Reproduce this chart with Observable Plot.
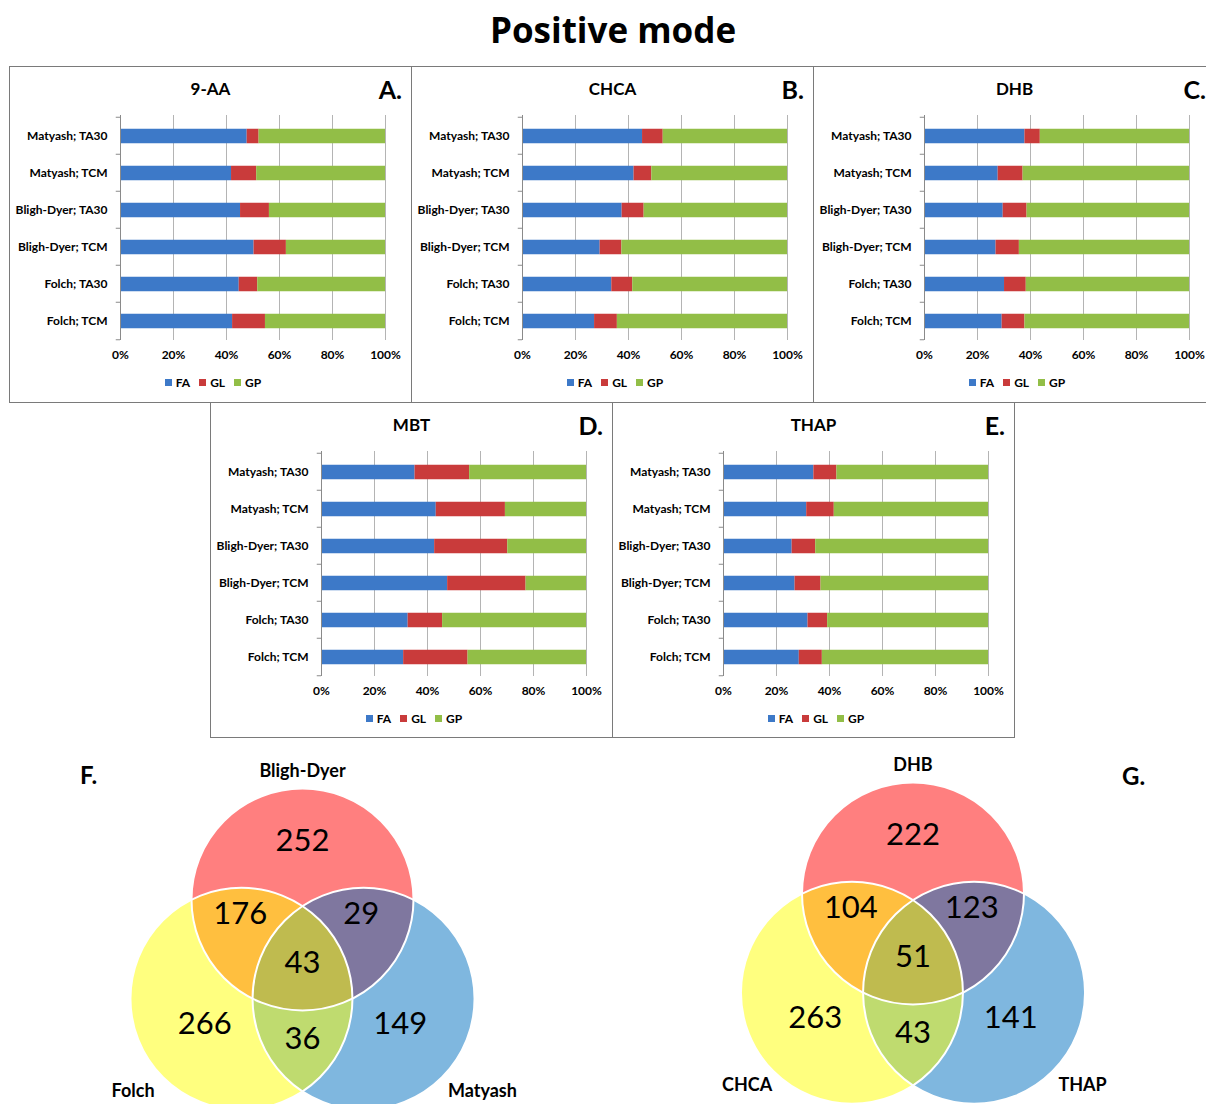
<!DOCTYPE html>
<html><head><meta charset="utf-8">
<script src="https://cdn.jsdelivr.net/npm/d3@7"></script>
<script src="https://cdn.jsdelivr.net/npm/@observablehq/plot@0.6"></script>
<style>
html,body{margin:0;padding:0;background:#fff;}
body{width:1206px;height:1104px;overflow:hidden;position:relative;font-family:Lato,"Open Sans",sans-serif;color:#000;}
.abs{position:absolute;}
.box{position:absolute;box-sizing:border-box;border:1px solid #7a7a7a;}
.ptitle{position:absolute;left:0;right:0;top:12px;text-align:center;font-weight:bold;font-size:17px;line-height:20px;}
.pletter{position:absolute;right:9px;top:7px;font-weight:bold;font-size:25px;line-height:30px;}
.legend{position:absolute;left:5px;right:0;top:309px;display:flex;justify-content:center;gap:9px;font-weight:bold;font-size:12px;line-height:14px;}
.legend span.sw{display:inline-block;width:7px;height:7px;margin-right:4px;vertical-align:1px;}
.panel svg{position:absolute;left:0;top:0;}
</style></head><body>
<div class="abs" style="left:10px;width:1206px;top:7px;text-align:center;font-family:'Open Sans',sans-serif;font-weight:bold;font-size:35px;line-height:46px;">Positive mode</div>
<div id="root"></div>
<script>
// ---------- data ----------
const methods = ["Matyash; TA30","Matyash; TCM","Bligh-Dyer; TA30","Bligh-Dyer; TCM","Folch; TA30","Folch; TCM"];
const classes = ["FA","GL","GP"];
const matrices = ["9-AA","CHCA","DHB","MBT","THAP"];
const letters = ["A.","B.","C.","D.","E."];
const xTicks = [0,20,40,60,80,100];

const AA_FA = [47.8,41.9,45.3,50.4,44.8,42.3];
const AA_GL = [4.5,9.5,10.9,12.2,7.0,12.4];
const AA_GP = [47.7,48.6,43.8,37.4,48.2,45.3];
const CHCA_FA = [45.3,42.1,37.6,29.3,33.7,27.2];
const CHCA_GL = [7.8,6.7,8.3,8.2,7.9,8.6];
const CHCA_GP = [46.9,51.2,54.1,62.5,58.4,64.2];
const DHB_FA = [37.9,27.8,29.7,27.0,30.2,29.3];
const DHB_GL = [5.8,9.4,9.0,8.8,8.2,8.6];
const DHB_GP = [56.3,62.8,61.3,64.2,61.6,62.1];
const MBT_FA = [35.3,43.3,42.7,47.6,32.7,31.0];
const MBT_GL = [20.6,26.1,27.6,29.6,13.0,24.3];
const MBT_GP = [44.1,30.6,29.7,22.8,54.3,44.7];
const THAP_FA = [34.1,31.4,25.9,27.0,31.9,28.6];
const THAP_GL = [8.7,10.4,8.9,9.8,7.4,8.7];
const THAP_GP = [57.2,58.2,65.2,63.2,60.7,62.7];

const vennRegions = ["T","TL","TR","TLR","L","LR","R"];
const vennF_sets = ["Bligh-Dyer","Folch","Matyash"];   // top, left, right
const vennF_counts = [252,176,29,43,266,36,149];
const vennG_sets = ["DHB","CHCA","THAP"];
const vennG_counts = [222,104,123,51,263,43,141];

// ---------- styles / layout ----------
const classColors = ["#3d79c8","#c93b3b","#92be47"];
const seriesByMatrix = [
  [AA_FA,AA_GL,AA_GP],[CHCA_FA,CHCA_GL,CHCA_GP],[DHB_FA,DHB_GL,DHB_GP],
  [MBT_FA,MBT_GL,MBT_GP],[THAP_FA,THAP_GL,THAP_GP]
];
const panelPos = [[9,66],[411,66],[813,66],[210,402],[612,402]];
const PW = 403, PH = 337;
const root = document.getElementById("root");

seriesByMatrix.forEach((series, i) => {
  const rows = [];
  methods.forEach((m, j) => classes.forEach((c, k) => rows.push({method: m, cls: c, value: series[k][j]})));
  const box = document.createElement("div");
  box.className = "box panel";
  box.style.left = panelPos[i][0] + "px";
  box.style.top = panelPos[i][1] + "px";
  box.style.width = PW + "px";
  box.style.height = (i < 3 ? PH : PH - 1) + "px";
  root.appendChild(box);
  const step = 37.5;
  const plot = Plot.plot({
    width: 401, height: 300,
    marginLeft: 110, marginRight: 26, marginTop: 48, marginBottom: 27,
    style: {fontFamily: "Lato, 'Open Sans', sans-serif", fontSize: "12px", fontWeight: "bold", color: "#000", background: "transparent", overflow: "visible"},
    x: {domain: [0, 100], ticks: xTicks, tickFormat: d => d + "%", label: null, tickSize: 0, tickPadding: 10},
    y: {type: "band", domain: methods, padding: 0, label: null, tickSize: 0, tickPadding: 13},
    color: {domain: classes, range: classColors},
    marks: [
      Plot.ruleX(xTicks.slice(1), {stroke: "#b4b4b4", strokeOpacity: 1}),
      Plot.barX(rows, Plot.stackX({x: "value", y: "method", fill: "cls", insetTop: 11.75, insetBottom: 10.75})),
      Plot.ruleX([0], {stroke: "#8a8a8a", strokeOpacity: 1}),
      Plot.ruleY(methods, {y: d => d, x1: -1.6, x2: 0, dy: -step / 2, stroke: "#8a8a8a"}),
      Plot.ruleY(methods.slice(-1), {y: d => d, x1: -1.6, x2: 0, dy: step / 2, stroke: "#8a8a8a"})
    ]
  });
  box.appendChild(plot);
  const t = document.createElement("div"); t.className = "ptitle"; t.textContent = matrices[i]; box.appendChild(t);
  const l = document.createElement("div"); l.className = "pletter"; l.textContent = letters[i]; box.appendChild(l);
  const lg = document.createElement("div"); lg.className = "legend";
  classes.forEach((c, k) => {
    const it = document.createElement("span");
    it.innerHTML = `<span class="sw" style="background:${classColors[k]}"></span>${c}`;
    lg.appendChild(it);
  });
  box.appendChild(lg);
});

// ---------- Venn diagrams ----------
const R = 111;
const circleOffsets = {T: [0, -0.595], L: [-0.55, 0.3], R: [0.55, 0.3]};
const circleColors = {T: "#ff0000", L: "#ffff00", R: "#0070c0"};
const drawOrder = ["T", "R", "L"];
const regionOffsets = {T: [0, -1.12], TL: [-0.56, -0.46], TR: [0.53, -0.46], TLR: [0, -0.02], L: [-0.88, 0.53], LR: [0, 0.66], R: [0.88, 0.53]};
const setLabelOffsets = [[0, -1.75, "middle"], [-1.72, 1.13, "start"], [1.31, 1.13, "start"]];

function venn(sets, counts, left, top, width, height, cx, cy) {
  const circles = drawOrder.map(k => ({k, x: cx + circleOffsets[k][0] * R, y: cy + circleOffsets[k][1] * R, color: circleColors[k]}));
  const labels = vennRegions.map((k, i) => ({text: String(counts[i]), x: cx + regionOffsets[k][0] * R, y: cy + regionOffsets[k][1] * R}));
  const names = sets.map((s, i) => ({text: s, x: cx + setLabelOffsets[i][0] * R, y: cy + setLabelOffsets[i][1] * R, anchor: setLabelOffsets[i][2]}));
  const plot = Plot.plot({
    width, height, margin: 0,
    x: {type: "identity", axis: null}, y: {type: "identity", axis: null},
    color: {type: "identity"},
    style: {fontFamily: "Lato, 'Open Sans', sans-serif", background: "transparent", overflow: "visible"},
    marks: [
      Plot.dot(circles, {x: "x", y: "y", r: R, fill: "color", fillOpacity: 0.5, stroke: null}),
      Plot.dot(circles, {x: "x", y: "y", r: R, fill: "none", stroke: "white", strokeWidth: 2}),
      Plot.text(labels, {x: "x", y: "y", text: "text", fontSize: 31, fill: "black"}),
      Plot.text(names.filter(d => d.anchor === "middle"), {x: "x", y: "y", text: "text", fontSize: 18, fontWeight: "bold", fill: "black", textAnchor: "middle"}),
      Plot.text(names.filter(d => d.anchor === "start"), {x: "x", y: "y", text: "text", fontSize: 18, fontWeight: "bold", fill: "black", textAnchor: "start"})
    ]
  });
  plot.style.position = "absolute";
  plot.style.left = left + "px";
  plot.style.top = top + "px";
  root.appendChild(plot);
}
venn(vennF_sets, vennF_counts, 0, 740, 600, 364, 302, 225);
venn(vennG_sets, vennG_counts, 603, 740, 603, 364, 309.5, 219);

function letter(txt, x, y) {
  const d = document.createElement("div");
  d.className = "abs";
  d.style.cssText = `left:${x}px;top:${y}px;font-weight:bold;font-size:24px;line-height:28px;`;
  d.textContent = txt;
  root.appendChild(d);
}
letter("F.", 80, 761);
letter("G.", 1122, 762);
</script>
</body></html>
